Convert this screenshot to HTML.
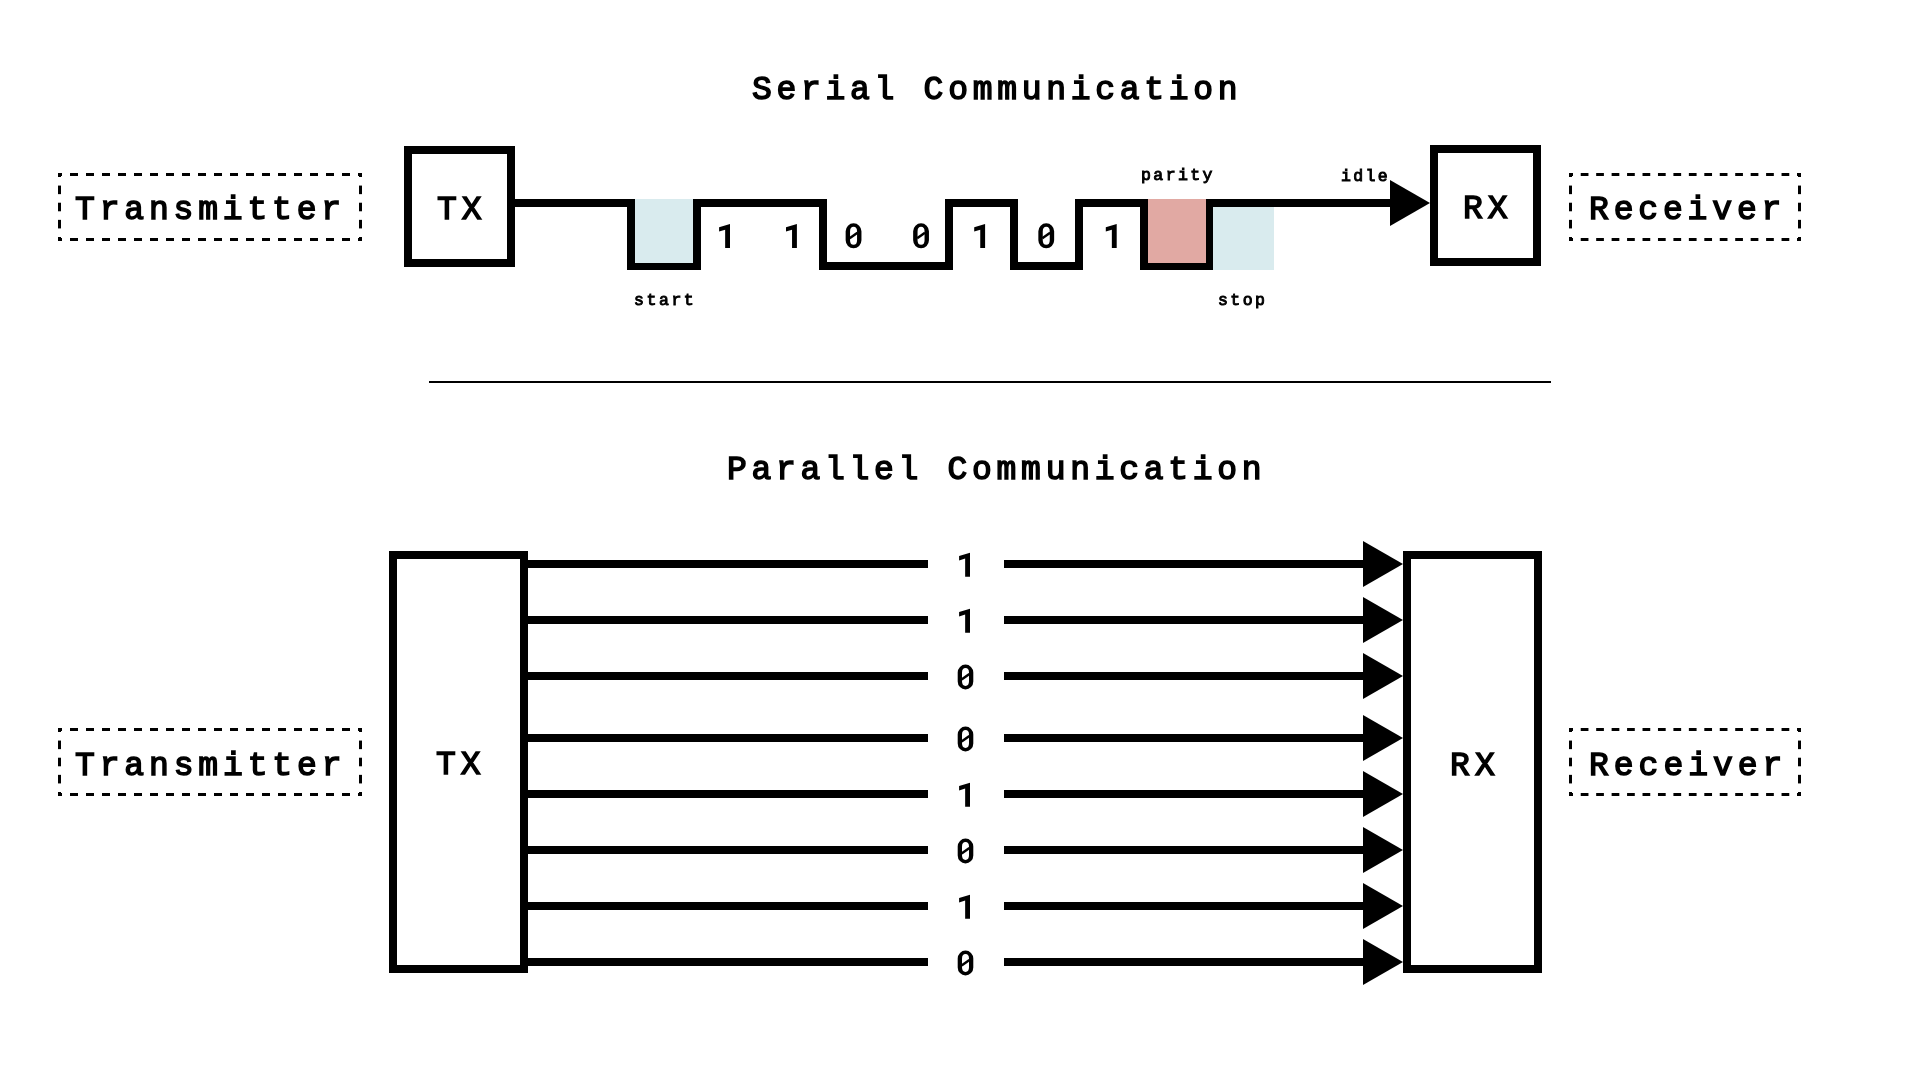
<!DOCTYPE html><html><head><meta charset="utf-8"><title>Serial vs Parallel Communication</title><style>
html,body{margin:0;padding:0;background:#fff;width:1920px;height:1080px;overflow:hidden;position:relative}
.t{position:absolute;white-space:pre;will-change:transform;font-family:"Liberation Mono",monospace;color:#000;line-height:1;-webkit-text-stroke-color:#000}
svg{position:absolute;left:0;top:0}
</style></head><body>
<svg width="1920" height="1080" viewBox="0 0 1920 1080">
<rect x="58" y="173" width="4" height="3"/>
<rect x="58" y="173" width="3" height="4"/>
<rect x="358" y="173" width="4" height="3"/>
<rect x="359" y="173" width="3" height="4"/>
<rect x="58" y="238" width="4" height="3"/>
<rect x="58" y="237" width="3" height="4"/>
<rect x="358" y="238" width="4" height="3"/>
<rect x="359" y="237" width="3" height="4"/>
<rect x="70.000" y="173" width="8.000" height="3"/>
<rect x="70.000" y="238" width="8.000" height="3"/>
<rect x="86.000" y="173" width="8.000" height="3"/>
<rect x="86.000" y="238" width="8.000" height="3"/>
<rect x="102.000" y="173" width="8.000" height="3"/>
<rect x="102.000" y="238" width="8.000" height="3"/>
<rect x="118.000" y="173" width="8.000" height="3"/>
<rect x="118.000" y="238" width="8.000" height="3"/>
<rect x="134.000" y="173" width="8.000" height="3"/>
<rect x="134.000" y="238" width="8.000" height="3"/>
<rect x="150.000" y="173" width="8.000" height="3"/>
<rect x="150.000" y="238" width="8.000" height="3"/>
<rect x="166.000" y="173" width="8.000" height="3"/>
<rect x="166.000" y="238" width="8.000" height="3"/>
<rect x="182.000" y="173" width="8.000" height="3"/>
<rect x="182.000" y="238" width="8.000" height="3"/>
<rect x="198.000" y="173" width="8.000" height="3"/>
<rect x="198.000" y="238" width="8.000" height="3"/>
<rect x="214.000" y="173" width="8.000" height="3"/>
<rect x="214.000" y="238" width="8.000" height="3"/>
<rect x="230.000" y="173" width="8.000" height="3"/>
<rect x="230.000" y="238" width="8.000" height="3"/>
<rect x="246.000" y="173" width="8.000" height="3"/>
<rect x="246.000" y="238" width="8.000" height="3"/>
<rect x="262.000" y="173" width="8.000" height="3"/>
<rect x="262.000" y="238" width="8.000" height="3"/>
<rect x="278.000" y="173" width="8.000" height="3"/>
<rect x="278.000" y="238" width="8.000" height="3"/>
<rect x="294.000" y="173" width="8.000" height="3"/>
<rect x="294.000" y="238" width="8.000" height="3"/>
<rect x="310.000" y="173" width="8.000" height="3"/>
<rect x="310.000" y="238" width="8.000" height="3"/>
<rect x="326.000" y="173" width="8.000" height="3"/>
<rect x="326.000" y="238" width="8.000" height="3"/>
<rect x="342.000" y="173" width="8.000" height="3"/>
<rect x="342.000" y="238" width="8.000" height="3"/>
<rect x="58" y="185.571" width="3" height="8.571"/>
<rect x="359" y="185.571" width="3" height="8.571"/>
<rect x="58" y="202.714" width="3" height="8.571"/>
<rect x="359" y="202.714" width="3" height="8.571"/>
<rect x="58" y="219.857" width="3" height="8.571"/>
<rect x="359" y="219.857" width="3" height="8.571"/>
<rect x="1569" y="173" width="4" height="3"/>
<rect x="1569" y="173" width="3" height="4"/>
<rect x="1797" y="173" width="4" height="3"/>
<rect x="1798" y="173" width="3" height="4"/>
<rect x="1569" y="238" width="4" height="3"/>
<rect x="1569" y="237" width="3" height="4"/>
<rect x="1797" y="238" width="4" height="3"/>
<rect x="1798" y="237" width="3" height="4"/>
<rect x="1580.724" y="173" width="7.724" height="3"/>
<rect x="1580.724" y="238" width="7.724" height="3"/>
<rect x="1596.172" y="173" width="7.724" height="3"/>
<rect x="1596.172" y="238" width="7.724" height="3"/>
<rect x="1611.621" y="173" width="7.724" height="3"/>
<rect x="1611.621" y="238" width="7.724" height="3"/>
<rect x="1627.069" y="173" width="7.724" height="3"/>
<rect x="1627.069" y="238" width="7.724" height="3"/>
<rect x="1642.517" y="173" width="7.724" height="3"/>
<rect x="1642.517" y="238" width="7.724" height="3"/>
<rect x="1657.966" y="173" width="7.724" height="3"/>
<rect x="1657.966" y="238" width="7.724" height="3"/>
<rect x="1673.414" y="173" width="7.724" height="3"/>
<rect x="1673.414" y="238" width="7.724" height="3"/>
<rect x="1688.862" y="173" width="7.724" height="3"/>
<rect x="1688.862" y="238" width="7.724" height="3"/>
<rect x="1704.310" y="173" width="7.724" height="3"/>
<rect x="1704.310" y="238" width="7.724" height="3"/>
<rect x="1719.759" y="173" width="7.724" height="3"/>
<rect x="1719.759" y="238" width="7.724" height="3"/>
<rect x="1735.207" y="173" width="7.724" height="3"/>
<rect x="1735.207" y="238" width="7.724" height="3"/>
<rect x="1750.655" y="173" width="7.724" height="3"/>
<rect x="1750.655" y="238" width="7.724" height="3"/>
<rect x="1766.103" y="173" width="7.724" height="3"/>
<rect x="1766.103" y="238" width="7.724" height="3"/>
<rect x="1781.552" y="173" width="7.724" height="3"/>
<rect x="1781.552" y="238" width="7.724" height="3"/>
<rect x="1569" y="185.571" width="3" height="8.571"/>
<rect x="1798" y="185.571" width="3" height="8.571"/>
<rect x="1569" y="202.714" width="3" height="8.571"/>
<rect x="1798" y="202.714" width="3" height="8.571"/>
<rect x="1569" y="219.857" width="3" height="8.571"/>
<rect x="1798" y="219.857" width="3" height="8.571"/>
<rect x="58" y="728" width="4" height="3"/>
<rect x="58" y="728" width="3" height="4"/>
<rect x="358" y="728" width="4" height="3"/>
<rect x="359" y="728" width="3" height="4"/>
<rect x="58" y="793" width="4" height="3"/>
<rect x="58" y="792" width="3" height="4"/>
<rect x="358" y="793" width="4" height="3"/>
<rect x="359" y="792" width="3" height="4"/>
<rect x="70.000" y="728" width="8.000" height="3"/>
<rect x="70.000" y="793" width="8.000" height="3"/>
<rect x="86.000" y="728" width="8.000" height="3"/>
<rect x="86.000" y="793" width="8.000" height="3"/>
<rect x="102.000" y="728" width="8.000" height="3"/>
<rect x="102.000" y="793" width="8.000" height="3"/>
<rect x="118.000" y="728" width="8.000" height="3"/>
<rect x="118.000" y="793" width="8.000" height="3"/>
<rect x="134.000" y="728" width="8.000" height="3"/>
<rect x="134.000" y="793" width="8.000" height="3"/>
<rect x="150.000" y="728" width="8.000" height="3"/>
<rect x="150.000" y="793" width="8.000" height="3"/>
<rect x="166.000" y="728" width="8.000" height="3"/>
<rect x="166.000" y="793" width="8.000" height="3"/>
<rect x="182.000" y="728" width="8.000" height="3"/>
<rect x="182.000" y="793" width="8.000" height="3"/>
<rect x="198.000" y="728" width="8.000" height="3"/>
<rect x="198.000" y="793" width="8.000" height="3"/>
<rect x="214.000" y="728" width="8.000" height="3"/>
<rect x="214.000" y="793" width="8.000" height="3"/>
<rect x="230.000" y="728" width="8.000" height="3"/>
<rect x="230.000" y="793" width="8.000" height="3"/>
<rect x="246.000" y="728" width="8.000" height="3"/>
<rect x="246.000" y="793" width="8.000" height="3"/>
<rect x="262.000" y="728" width="8.000" height="3"/>
<rect x="262.000" y="793" width="8.000" height="3"/>
<rect x="278.000" y="728" width="8.000" height="3"/>
<rect x="278.000" y="793" width="8.000" height="3"/>
<rect x="294.000" y="728" width="8.000" height="3"/>
<rect x="294.000" y="793" width="8.000" height="3"/>
<rect x="310.000" y="728" width="8.000" height="3"/>
<rect x="310.000" y="793" width="8.000" height="3"/>
<rect x="326.000" y="728" width="8.000" height="3"/>
<rect x="326.000" y="793" width="8.000" height="3"/>
<rect x="342.000" y="728" width="8.000" height="3"/>
<rect x="342.000" y="793" width="8.000" height="3"/>
<rect x="58" y="740.571" width="3" height="8.571"/>
<rect x="359" y="740.571" width="3" height="8.571"/>
<rect x="58" y="757.714" width="3" height="8.571"/>
<rect x="359" y="757.714" width="3" height="8.571"/>
<rect x="58" y="774.857" width="3" height="8.571"/>
<rect x="359" y="774.857" width="3" height="8.571"/>
<rect x="1569" y="728" width="4" height="3"/>
<rect x="1569" y="728" width="3" height="4"/>
<rect x="1797" y="728" width="4" height="3"/>
<rect x="1798" y="728" width="3" height="4"/>
<rect x="1569" y="793" width="4" height="3"/>
<rect x="1569" y="792" width="3" height="4"/>
<rect x="1797" y="793" width="4" height="3"/>
<rect x="1798" y="792" width="3" height="4"/>
<rect x="1580.724" y="728" width="7.724" height="3"/>
<rect x="1580.724" y="793" width="7.724" height="3"/>
<rect x="1596.172" y="728" width="7.724" height="3"/>
<rect x="1596.172" y="793" width="7.724" height="3"/>
<rect x="1611.621" y="728" width="7.724" height="3"/>
<rect x="1611.621" y="793" width="7.724" height="3"/>
<rect x="1627.069" y="728" width="7.724" height="3"/>
<rect x="1627.069" y="793" width="7.724" height="3"/>
<rect x="1642.517" y="728" width="7.724" height="3"/>
<rect x="1642.517" y="793" width="7.724" height="3"/>
<rect x="1657.966" y="728" width="7.724" height="3"/>
<rect x="1657.966" y="793" width="7.724" height="3"/>
<rect x="1673.414" y="728" width="7.724" height="3"/>
<rect x="1673.414" y="793" width="7.724" height="3"/>
<rect x="1688.862" y="728" width="7.724" height="3"/>
<rect x="1688.862" y="793" width="7.724" height="3"/>
<rect x="1704.310" y="728" width="7.724" height="3"/>
<rect x="1704.310" y="793" width="7.724" height="3"/>
<rect x="1719.759" y="728" width="7.724" height="3"/>
<rect x="1719.759" y="793" width="7.724" height="3"/>
<rect x="1735.207" y="728" width="7.724" height="3"/>
<rect x="1735.207" y="793" width="7.724" height="3"/>
<rect x="1750.655" y="728" width="7.724" height="3"/>
<rect x="1750.655" y="793" width="7.724" height="3"/>
<rect x="1766.103" y="728" width="7.724" height="3"/>
<rect x="1766.103" y="793" width="7.724" height="3"/>
<rect x="1781.552" y="728" width="7.724" height="3"/>
<rect x="1781.552" y="793" width="7.724" height="3"/>
<rect x="1569" y="740.571" width="3" height="8.571"/>
<rect x="1798" y="740.571" width="3" height="8.571"/>
<rect x="1569" y="757.714" width="3" height="8.571"/>
<rect x="1798" y="757.714" width="3" height="8.571"/>
<rect x="1569" y="774.857" width="3" height="8.571"/>
<rect x="1798" y="774.857" width="3" height="8.571"/>
<rect x="408" y="150" width="103" height="113" fill="none" stroke="#000" stroke-width="8"/>
<rect x="1434" y="149" width="103" height="113" fill="none" stroke="#000" stroke-width="8"/>
<path d="M515 203 H631 V266 H697 V203 H823 V266 H949 V203 H1014 V266 H1079 V203 H1144 V266 H1210 V203 H1392" fill="none" stroke="#000" stroke-width="8" stroke-linejoin="miter" stroke-linecap="butt"/>
<rect x="635" y="199" width="58" height="64" fill="#d9ebee"/>
<rect x="1148" y="199" width="58" height="64" fill="#e1a9a3"/>
<rect x="1213" y="207" width="61" height="63" fill="#d9ebee"/>
<polygon points="1390,180 1430,203 1390,226"/>
<rect x="429" y="381" width="1122" height="2"/>
<rect x="393" y="555" width="131" height="414" fill="none" stroke="#000" stroke-width="8"/>
<rect x="1407" y="555" width="131" height="414" fill="none" stroke="#000" stroke-width="8"/>
<rect x="528" y="560" width="400" height="8"/>
<rect x="1004" y="560" width="361" height="8"/>
<polygon points="1363,541 1403,564 1363,587"/>
<rect x="528" y="616" width="400" height="8"/>
<rect x="1004" y="616" width="361" height="8"/>
<polygon points="1363,597 1403,620 1363,643"/>
<rect x="528" y="672" width="400" height="8"/>
<rect x="1004" y="672" width="361" height="8"/>
<polygon points="1363,653 1403,676 1363,699"/>
<rect x="528" y="734" width="400" height="8"/>
<rect x="1004" y="734" width="361" height="8"/>
<polygon points="1363,715 1403,738 1363,761"/>
<rect x="528" y="790" width="400" height="8"/>
<rect x="1004" y="790" width="361" height="8"/>
<polygon points="1363,771 1403,794 1363,817"/>
<rect x="528" y="846" width="400" height="8"/>
<rect x="1004" y="846" width="361" height="8"/>
<polygon points="1363,827 1403,850 1363,873"/>
<rect x="528" y="902" width="400" height="8"/>
<rect x="1004" y="902" width="361" height="8"/>
<polygon points="1363,883 1403,906 1363,929"/>
<rect x="528" y="958" width="400" height="8"/>
<rect x="1004" y="958" width="361" height="8"/>
<polygon points="1363,939 1403,962 1363,985"/>
<polygon points="719.10,227.30 730.00,223.90 730.00,247.90 725.15,247.90 725.15,229.80 719.10,231.60"/>
<polygon points="786.00,227.30 796.90,223.90 796.90,247.90 792.05,247.90 792.05,229.80 786.00,231.60"/>
<path fill-rule="evenodd" d="M853.55 223.30 H853.55 A7.9 8.0 0 0 1 861.45 231.30 V240.30 A7.9 8.0 0 0 1 853.55 248.30 H853.55 A7.9 8.0 0 0 1 845.65 240.30 V231.30 A7.9 8.0 0 0 1 853.55 223.30 Z M853.55 226.85 H853.55 A3.5 4.6 0 0 1 857.05 231.45 V240.15 A3.5 4.6 0 0 1 853.55 244.75 H853.55 A3.5 4.6 0 0 1 850.05 240.15 V231.45 A3.5 4.6 0 0 1 853.55 226.85 Z"/><line x1="849.65" y1="238.25" x2="857.45" y2="232.75" stroke="#000" stroke-width="2.5"/>
<path fill-rule="evenodd" d="M921.05 223.30 H921.05 A7.9 8.0 0 0 1 928.95 231.30 V240.30 A7.9 8.0 0 0 1 921.05 248.30 H921.05 A7.9 8.0 0 0 1 913.15 240.30 V231.30 A7.9 8.0 0 0 1 921.05 223.30 Z M921.05 226.85 H921.05 A3.5 4.6 0 0 1 924.55 231.45 V240.15 A3.5 4.6 0 0 1 921.05 244.75 H921.05 A3.5 4.6 0 0 1 917.55 240.15 V231.45 A3.5 4.6 0 0 1 921.05 226.85 Z"/><line x1="917.15" y1="238.25" x2="924.95" y2="232.75" stroke="#000" stroke-width="2.5"/>
<polygon points="974.20,227.30 985.10,223.90 985.10,247.90 980.25,247.90 980.25,229.80 974.20,231.60"/>
<path fill-rule="evenodd" d="M1046.25 223.30 H1046.25 A7.9 8.0 0 0 1 1054.15 231.30 V240.30 A7.9 8.0 0 0 1 1046.25 248.30 H1046.25 A7.9 8.0 0 0 1 1038.35 240.30 V231.30 A7.9 8.0 0 0 1 1046.25 223.30 Z M1046.25 226.85 H1046.25 A3.5 4.6 0 0 1 1049.75 231.45 V240.15 A3.5 4.6 0 0 1 1046.25 244.75 H1046.25 A3.5 4.6 0 0 1 1042.75 240.15 V231.45 A3.5 4.6 0 0 1 1046.25 226.85 Z"/><line x1="1042.35" y1="238.25" x2="1050.15" y2="232.75" stroke="#000" stroke-width="2.5"/>
<polygon points="1105.80,227.30 1116.70,223.90 1116.70,247.90 1111.85,247.90 1111.85,229.80 1105.80,231.60"/>
<polygon points="959.10,556.10 970.00,552.70 970.00,576.80 965.15,576.80 965.15,558.60 959.10,560.40"/>
<polygon points="959.10,612.10 970.00,608.70 970.00,632.80 965.15,632.80 965.15,614.60 959.10,616.40"/>
<path fill-rule="evenodd" d="M965.50 664.60 H965.50 A7.8 8.0 0 0 1 973.30 672.60 V681.40 A7.8 8.0 0 0 1 965.50 689.40 H965.50 A7.8 8.0 0 0 1 957.70 681.40 V672.60 A7.8 8.0 0 0 1 965.50 664.60 Z M965.50 668.05 H965.50 A3.5 4.6 0 0 1 969.00 672.65 V681.35 A3.5 4.6 0 0 1 965.50 685.95 H965.50 A3.5 4.6 0 0 1 962.00 681.35 V672.65 A3.5 4.6 0 0 1 965.50 668.05 Z"/><line x1="961.60" y1="679.45" x2="969.40" y2="673.95" stroke="#000" stroke-width="2.5"/>
<path fill-rule="evenodd" d="M965.50 726.60 H965.50 A7.8 8.0 0 0 1 973.30 734.60 V743.40 A7.8 8.0 0 0 1 965.50 751.40 H965.50 A7.8 8.0 0 0 1 957.70 743.40 V734.60 A7.8 8.0 0 0 1 965.50 726.60 Z M965.50 730.05 H965.50 A3.5 4.6 0 0 1 969.00 734.65 V743.35 A3.5 4.6 0 0 1 965.50 747.95 H965.50 A3.5 4.6 0 0 1 962.00 743.35 V734.65 A3.5 4.6 0 0 1 965.50 730.05 Z"/><line x1="961.60" y1="741.45" x2="969.40" y2="735.95" stroke="#000" stroke-width="2.5"/>
<polygon points="959.10,786.10 970.00,782.70 970.00,806.80 965.15,806.80 965.15,788.60 959.10,790.40"/>
<path fill-rule="evenodd" d="M965.50 838.60 H965.50 A7.8 8.0 0 0 1 973.30 846.60 V855.40 A7.8 8.0 0 0 1 965.50 863.40 H965.50 A7.8 8.0 0 0 1 957.70 855.40 V846.60 A7.8 8.0 0 0 1 965.50 838.60 Z M965.50 842.05 H965.50 A3.5 4.6 0 0 1 969.00 846.65 V855.35 A3.5 4.6 0 0 1 965.50 859.95 H965.50 A3.5 4.6 0 0 1 962.00 855.35 V846.65 A3.5 4.6 0 0 1 965.50 842.05 Z"/><line x1="961.60" y1="853.45" x2="969.40" y2="847.95" stroke="#000" stroke-width="2.5"/>
<polygon points="959.10,898.10 970.00,894.70 970.00,918.80 965.15,918.80 965.15,900.60 959.10,902.40"/>
<path fill-rule="evenodd" d="M965.50 950.60 H965.50 A7.8 8.0 0 0 1 973.30 958.60 V967.40 A7.8 8.0 0 0 1 965.50 975.40 H965.50 A7.8 8.0 0 0 1 957.70 967.40 V958.60 A7.8 8.0 0 0 1 965.50 950.60 Z M965.50 954.05 H965.50 A3.5 4.6 0 0 1 969.00 958.65 V967.35 A3.5 4.6 0 0 1 965.50 971.95 H965.50 A3.5 4.6 0 0 1 962.00 967.35 V958.65 A3.5 4.6 0 0 1 965.50 954.05 Z"/><line x1="961.60" y1="965.45" x2="969.40" y2="959.95" stroke="#000" stroke-width="2.5"/>
</svg>
<div class="t" id="t0" style="left:751.56px;top:73.62px;font-size:33px;letter-spacing:4.713px;font-weight:400;-webkit-text-stroke-width:1.5px">Serial Communication</div>
<div class="t" id="t1" style="left:74.67px;top:194.44px;font-size:33px;letter-spacing:4.824px;font-weight:400;-webkit-text-stroke-width:1.5px">Transmitter</div>
<div class="t" id="t2" style="left:436.56px;top:194.40px;font-size:33px;letter-spacing:5.014px;font-weight:400;-webkit-text-stroke-width:1.5px">TX</div>
<div class="t" id="t3" style="left:1462.56px;top:193.34px;font-size:33px;letter-spacing:4.831px;font-weight:400;-webkit-text-stroke-width:1.5px">RX</div>
<div class="t" id="t4" style="left:1588.57px;top:194.39px;font-size:33px;letter-spacing:4.850px;font-weight:400;-webkit-text-stroke-width:1.5px">Receiver</div>
<div class="t" id="t5" style="left:633.61px;top:292.67px;font-size:16.5px;letter-spacing:2.567px;font-weight:400;-webkit-text-stroke-width:0.95px">start</div>
<div class="t" id="t6" style="left:1217.55px;top:292.58px;font-size:16.5px;letter-spacing:2.465px;font-weight:400;-webkit-text-stroke-width:0.95px">stop</div>
<div class="t" id="t7" style="left:1140.58px;top:168.18px;font-size:16.5px;letter-spacing:2.415px;font-weight:400;-webkit-text-stroke-width:0.95px">parity</div>
<div class="t" id="t8" style="left:1340.99px;top:168.55px;font-size:16.5px;letter-spacing:2.389px;font-weight:400;-webkit-text-stroke-width:0.95px">idle</div>
<div class="t" id="t9" style="left:726.55px;top:453.75px;font-size:33px;letter-spacing:4.707px;font-weight:400;-webkit-text-stroke-width:1.5px">Parallel Communication</div>
<div class="t" id="t10" style="left:75.27px;top:749.80px;font-size:33px;letter-spacing:4.867px;font-weight:400;-webkit-text-stroke-width:1.5px">Transmitter</div>
<div class="t" id="t11" style="left:435.73px;top:749.47px;font-size:33px;letter-spacing:4.973px;font-weight:400;-webkit-text-stroke-width:1.5px">TX</div>
<div class="t" id="t12" style="left:1449.79px;top:749.97px;font-size:33px;letter-spacing:5.229px;font-weight:400;-webkit-text-stroke-width:1.5px">RX</div>
<div class="t" id="t13" style="left:1588.76px;top:749.64px;font-size:33px;letter-spacing:5.000px;font-weight:400;-webkit-text-stroke-width:1.5px">Receiver</div>
</body></html>
